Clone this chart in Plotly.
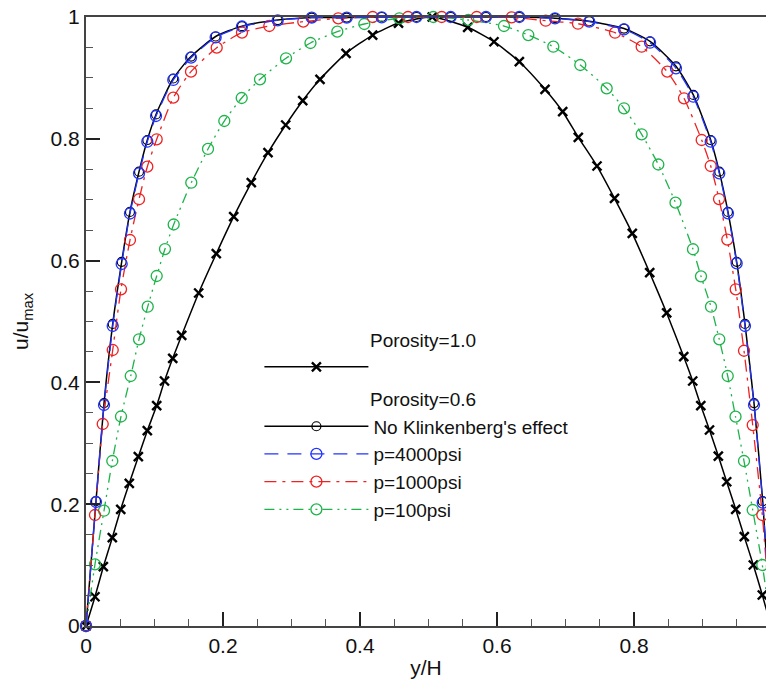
import plotly.graph_objects as go

# Porosity = 1.0 (black, x markers)
yh_p10 = [0.0, 0.0131, 0.0253, 0.0384, 0.0507, 0.0632, 0.0764, 0.0895, 0.1032, 0.1146,
          0.1266, 0.1397, 0.1645, 0.1902, 0.2156, 0.2413, 0.2657, 0.2915, 0.3164, 0.3416,
          0.3796, 0.4185, 0.4562, 0.5055, 0.5572, 0.5956, 0.6326, 0.6701, 0.6959, 0.7187,
          0.7460, 0.7715, 0.7975, 0.8229, 0.8477, 0.8726, 0.8857, 0.8975, 0.9102, 0.9231,
          0.9353, 0.9485, 0.9610, 0.9742, 0.9873, 1.0]
u_p10 = [0.0, 0.048, 0.0974, 0.145, 0.1916, 0.2343, 0.278, 0.3207, 0.362, 0.4023,
         0.4396, 0.4773, 0.5468, 0.6113, 0.6721, 0.7282, 0.7772, 0.8227, 0.8626, 0.8977,
         0.9404, 0.9704, 0.9901, 1.0, 0.9831, 0.9594, 0.9266, 0.8813, 0.8445, 0.8025,
         0.7553, 0.7023, 0.6448, 0.5801, 0.514, 0.4422, 0.4023, 0.362, 0.3218, 0.2791,
         0.2369, 0.1916, 0.1466, 0.1002, 0.0509, 0.0]

# Porosity = 0.6, p = 4000 psi (blue)
yh_4000 = [0.0, 0.0146, 0.0263, 0.039, 0.0521, 0.0642, 0.0774, 0.0895, 0.1022, 0.1274,
           0.1533, 0.1893, 0.2277, 0.2799, 0.3295, 0.3806, 0.4317, 0.4825, 0.5324, 0.5839,
           0.6326, 0.6847, 0.7347, 0.7854, 0.8234, 0.8613, 0.8866, 0.912, 0.9245, 0.9372,
           0.9499, 0.962, 0.9752, 0.9879, 1.0]
u_4000 = [0.0, 0.2036, 0.3629, 0.4926, 0.5944, 0.6773, 0.7433, 0.7952, 0.8374, 0.8966,
          0.9332, 0.9667, 0.9844, 0.9946, 0.9989, 0.9989, 0.9995, 1.0, 1.0, 1.0,
          1.0, 0.9979, 0.9923, 0.9798, 0.9578, 0.9158, 0.8691, 0.7952, 0.7433, 0.6777,
          0.5956, 0.4926, 0.3629, 0.2025, 0.0]

# Porosity = 0.6, no Klinkenberg effect (black, nearly identical to 4000 psi)
yh_nok = [0.0, 0.0146, 0.0263, 0.039, 0.0521, 0.0642, 0.0774, 0.0895, 0.1022, 0.1274,
          0.1533, 0.1893, 0.2277, 0.2799, 0.3295, 0.3806, 0.4317, 0.4825, 0.5324, 0.5839,
          0.6326, 0.6847, 0.7347, 0.7854, 0.8234, 0.8613, 0.8866, 0.912, 0.9245, 0.9372,
          0.9499, 0.962, 0.9752, 0.9879, 1.0]
u_nok = [0.0, 0.205, 0.366, 0.496, 0.598, 0.680, 0.746, 0.798, 0.840, 0.899,
         0.935, 0.968, 0.985, 0.995, 0.999, 0.999, 1.0, 1.0, 1.0, 1.0,
         1.0, 0.998, 0.993, 0.981, 0.960, 0.919, 0.872, 0.798, 0.746, 0.680,
         0.598, 0.496, 0.366, 0.205, 0.0]

# p = 1000 psi (red)
yh_1000 = [0.0, 0.0131, 0.0244, 0.039, 0.0511, 0.0642, 0.0774, 0.0895, 0.1032, 0.1274,
           0.1533, 0.1908, 0.2277, 0.2676, 0.3172, 0.3683, 0.4185, 0.4701, 0.5193, 0.5704,
           0.6215, 0.6711, 0.7182, 0.7723, 0.8112, 0.8486, 0.873, 0.8988, 0.912, 0.9241,
           0.9362, 0.9485, 0.9606, 0.9733, 0.9873, 1.0]
u_1000 = [0.0, 0.1823, 0.3317, 0.4532, 0.5529, 0.6338, 0.7007, 0.7542, 0.7992, 0.8675,
          0.9102, 0.9496, 0.9745, 0.9852, 0.9923, 0.9979, 1.0, 1.0, 1.0, 1.0,
          0.9995, 0.9939, 0.989, 0.9742, 0.9512, 0.9102, 0.8665, 0.798, 0.7553, 0.7011,
          0.6346, 0.5529, 0.452, 0.33, 0.1823, 0.0]

# p = 100 psi (green)
yh_100 = [0.0, 0.0131, 0.0263, 0.0384, 0.0511, 0.0653, 0.0774, 0.0901, 0.1032, 0.1153,
          0.128, 0.1537, 0.1781, 0.2019, 0.2273, 0.254, 0.292, 0.3277, 0.3669, 0.4063,
          0.4574, 0.507, 0.5581, 0.6102, 0.6457, 0.6822, 0.7216, 0.7601, 0.7854, 0.8112,
          0.8355, 0.8606, 0.8861, 0.8978, 0.9124, 0.9245, 0.9368, 0.9482, 0.9606, 0.9733,
          0.9873, 1.0]
u_100 = [0.0, 0.1013, 0.1893, 0.2709, 0.344, 0.4105, 0.4708, 0.5243, 0.5747, 0.619,
         0.6593, 0.7279, 0.7833, 0.8292, 0.867, 0.8977, 0.9322, 0.9573, 0.9759, 0.9885,
         0.9979, 1.0, 0.9951, 0.9852, 0.9704, 0.9512, 0.9212, 0.8829, 0.8501, 0.8074,
         0.7578, 0.6951, 0.6186, 0.5742, 0.5243, 0.4708, 0.4105, 0.3437, 0.2709, 0.1905,
         0.1002, 0.0]

x_ticks = [0, 0.2, 0.4, 0.6, 0.8]
x_tick_labels = ["0", "0.2", "0.4", "0.6", "0.8"]
y_ticks = [0, 0.2, 0.4, 0.6, 0.8, 1.0]
y_tick_labels = ["0", "0.2", "0.4", "0.6", "0.8", "1"]

BLACK = "#000000"
BLUE = "#2233ff"
RED = "#ee2222"
GREEN = "#1db34a"
FONT = "Liberation Sans, Arial, sans-serif"
INDENT = "\u00a0" * 20

fig = go.Figure()

fig.add_trace(go.Scatter(
    x=yh_p10, y=u_p10, mode="lines+markers", name="\u00a0",
    line=dict(color=BLACK, width=1.5, shape="spline", smoothing=0.6),
    marker=dict(symbol="x-thin-open", size=9, line=dict(color=BLACK, width=2.4)),
    legendgroup="g1", legendgrouptitle=dict(text=INDENT + "Porosity=1.0"), legendrank=1,
    cliponaxis=False,
))
fig.add_trace(go.Scatter(
    x=yh_nok, y=u_nok, mode="lines+markers", name="No Klinkenberg's effect",
    line=dict(color=BLACK, width=1.5, shape="spline", smoothing=0.6),
    marker=dict(symbol="circle-open", size=9, line=dict(color=BLACK, width=1.2)),
    legendgroup="g2", legendgrouptitle=dict(text=INDENT + "Porosity=0.6"), legendrank=2,
    cliponaxis=False,
))
fig.add_trace(go.Scatter(
    x=yh_100, y=u_100, mode="lines+markers", name="p=100psi",
    line=dict(color=GREEN, width=1.3, dash="10px,5px,2px,5px,2px,5px", shape="spline", smoothing=0.6),
    marker=dict(symbol="circle-open", size=11, line=dict(color=GREEN, width=1.3)),
    legendgroup="g2", legendrank=5, cliponaxis=False,
))
fig.add_trace(go.Scatter(
    x=yh_1000, y=u_1000, mode="lines+markers", name="p=1000psi",
    line=dict(color=RED, width=1.3, dash="12px,6px,3px,6px", shape="spline", smoothing=0.6),
    marker=dict(symbol="circle-open", size=11, line=dict(color=RED, width=1.3)),
    legendgroup="g2", legendrank=4, cliponaxis=False,
))
fig.add_trace(go.Scatter(
    x=yh_4000, y=u_4000, mode="lines+markers", name="p=4000psi",
    line=dict(color=BLUE, width=1.3, dash="14px,9px", shape="spline", smoothing=0.6),
    marker=dict(symbol="circle-open", size=11, line=dict(color=BLUE, width=1.3)),
    legendgroup="g2", legendrank=3, cliponaxis=False,
))

axis_common = dict(
    showgrid=False, zeroline=False, showline=True, linecolor="#444444", linewidth=2,
    ticks="inside", ticklen=14, tickwidth=2, tickcolor="#222222", automargin=False,
    tickfont=dict(family=FONT, size=21, color="#111111"),
    minor=dict(ticks="inside", ticklen=7, tickwidth=1, tickcolor="#555555"),
)

fig.update_xaxes(
    **axis_common, range=[0, 0.9927], tickvals=x_ticks, ticktext=x_tick_labels,
    mirror=True,
    title=dict(text="y/H", font=dict(family=FONT, size=21, color="#111111"), standoff=4),
)
fig.update_xaxes(minor=dict(dtick=0.05, tick0=0))
fig.update_yaxes(
    **axis_common, range=[0, 1.0], tickvals=y_ticks, ticktext=y_tick_labels,
    title=dict(text="u/u<sub>max</sub>", font=dict(family=FONT, size=21, color="#111111"), standoff=16),
)
fig.update_yaxes(minor=dict(dtick=0.05, tick0=0))

fig.update_layout(
    width=766, height=688, autosize=False,
    margin=dict(l=86, r=0, t=17, b=62, autoexpand=False),
    paper_bgcolor="white", plot_bgcolor="white",
    font=dict(family=FONT, color="#111111"),
    legend=dict(
        x=0.255, y=0.502, xanchor="left", yanchor="top",
        bgcolor="rgba(0,0,0,0)", borderwidth=0,
        font=dict(family=FONT, size=19, color="#111111"),
        grouptitlefont=dict(family=FONT, size=19, color="#111111"),
        traceorder="grouped", tracegroupgap=4, itemwidth=104,
    ),
)

fig.write_html(
    "out.html",
    config={"displayModeBar": False},
    post_script="document.body.style.margin='0px'; document.body.style.overflow='hidden';",
)
